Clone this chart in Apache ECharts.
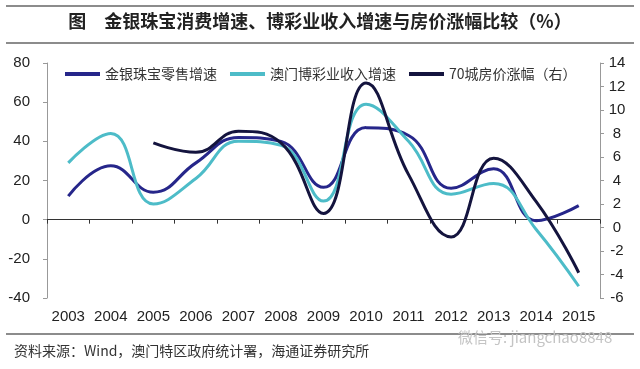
<!DOCTYPE html>
<html><head><meta charset="utf-8">
<script src="https://cdn.jsdelivr.net/npm/echarts@6/dist/echarts.min.js"></script>
<style>html,body{margin:0;padding:0;background:#fff;}#c{width:640px;height:369px;}</style>
</head><body><div id="c"></div>
<script>
var categories = ['2003','2004','2005','2006','2007','2008','2009','2010','2011','2012','2013','2014','2015'];
var jewelry = [12, 27.5, 14, 29, 42, 40, 16.5, 47, 43, 16, 26, -0.5, 7.2];
var macau = [29, 44, 8, 21, 40, 38, 9.5, 59, 40, 13, 18.5, -5, -34];
var housing = [null, null, 7.2, 6.4, 8.2, 7.2, 1.2, 12.3, 4.5, -0.8, 5.9, 2.2, -3.85];
var leftTicks = {min: -40, max: 80, interval: 20};
var rightTicks = {min: -6, max: 14, interval: 2};
var names = ['金银珠宝零售增速', '澳门博彩业收入增速', '70城房价涨幅（右）'];

var cjk = "'Noto Sans CJK SC', sans-serif";
var num = "'Liberation Sans', Arial, sans-serif";
var chart = echarts.init(document.getElementById('c'), null, {renderer: 'canvas'});
chart.setOption({
  animation: false,
  backgroundColor: '#fff',
  grid: {left: 47, right: 40, top: 63, bottom: 71},
  legend: {
    top: 62, left: 60, itemWidth: 35, itemHeight: 4, itemGap: 13, icon: 'rect',
    textStyle: {fontFamily: cjk, fontSize: 14, color: '#333'},
    data: names
  },
  xAxis: [{
    type: 'category', data: categories, boundaryGap: true,
    axisLine: {onZero: true, onZeroAxisIndex: 0, lineStyle: {color: '#333', width: 1}},
    axisTick: {show: true, length: 4, lineStyle: {color: '#333'}},
    axisLabel: {show: false}
  }, {
    type: 'category', data: categories, boundaryGap: true, position: 'bottom',
    axisLine: {show: false, onZero: false}, axisTick: {show: false},
    axisLabel: {interval: 0, margin: 11, fontFamily: num, fontSize: 15, color: '#222'}
  }],
  yAxis: [{
    type: 'value', min: leftTicks.min, max: leftTicks.max, interval: leftTicks.interval,
    splitLine: {show: false},
    axisLine: {show: true, lineStyle: {color: '#999'}},
    axisTick: {show: true, length: 4, lineStyle: {color: '#999'}},
    axisLabel: {margin: 17, fontFamily: num, fontSize: 15, color: '#222'}
  }, {
    type: 'value', position: 'right', min: rightTicks.min, max: rightTicks.max, interval: rightTicks.interval,
    splitLine: {show: false},
    axisLine: {show: true, lineStyle: {color: '#999'}},
    axisTick: {show: true, length: 4, lineStyle: {color: '#999'}},
    axisLabel: {margin: 17, align: 'center', fontFamily: num, fontSize: 15, color: '#222'}
  }],
  series: [{
    name: names[0], type: 'line', data: jewelry, smooth: 0.45, symbol: 'none', yAxisIndex: 0,
    lineStyle: {color: '#26268a', width: 3}, itemStyle: {color: '#26268a'}
  }, {
    name: names[1], type: 'line', data: macau, smooth: 0.45, symbol: 'none', yAxisIndex: 0,
    lineStyle: {color: '#4dbcc8', width: 3}, itemStyle: {color: '#4dbcc8'}
  }, {
    name: names[2], type: 'line', data: housing, smooth: 0.45, symbol: 'none', yAxisIndex: 1,
    lineStyle: {color: '#14143e', width: 3}, itemStyle: {color: '#14143e'}
  }],
  graphic: [
    {type: 'line', shape: {x1: 6, y1: 6, x2: 634, y2: 6}, style: {stroke: '#666', lineWidth: 1.5}},
    {type: 'line', shape: {x1: 6, y1: 43, x2: 634, y2: 43}, style: {stroke: '#666', lineWidth: 1.5}},
    {type: 'text', left: 'center', top: 12, style: {text: '图　金银珠宝消费增速、博彩业收入增速与房价涨幅比较（%）', font: "bold 18px 'Noto Sans CJK SC', sans-serif", fill: '#222'}},
    {type: 'line', shape: {x1: 6, y1: 334, x2: 634, y2: 334}, style: {stroke: '#666', lineWidth: 1.5}},
    {type: 'text', left: 14, top: 344, style: {text: '资料来源：Wind，澳门特区政府统计署，海通证券研究所', font: "14px 'Noto Sans CJK SC', sans-serif", fill: '#333'}},
    {type: 'text', left: 458, top: 330, style: {text: '微信号: jiangchao8848', font: "15px 'Noto Sans CJK SC', sans-serif", fill: '#c4c4c4'}}
  ]
});
</script></body></html>
